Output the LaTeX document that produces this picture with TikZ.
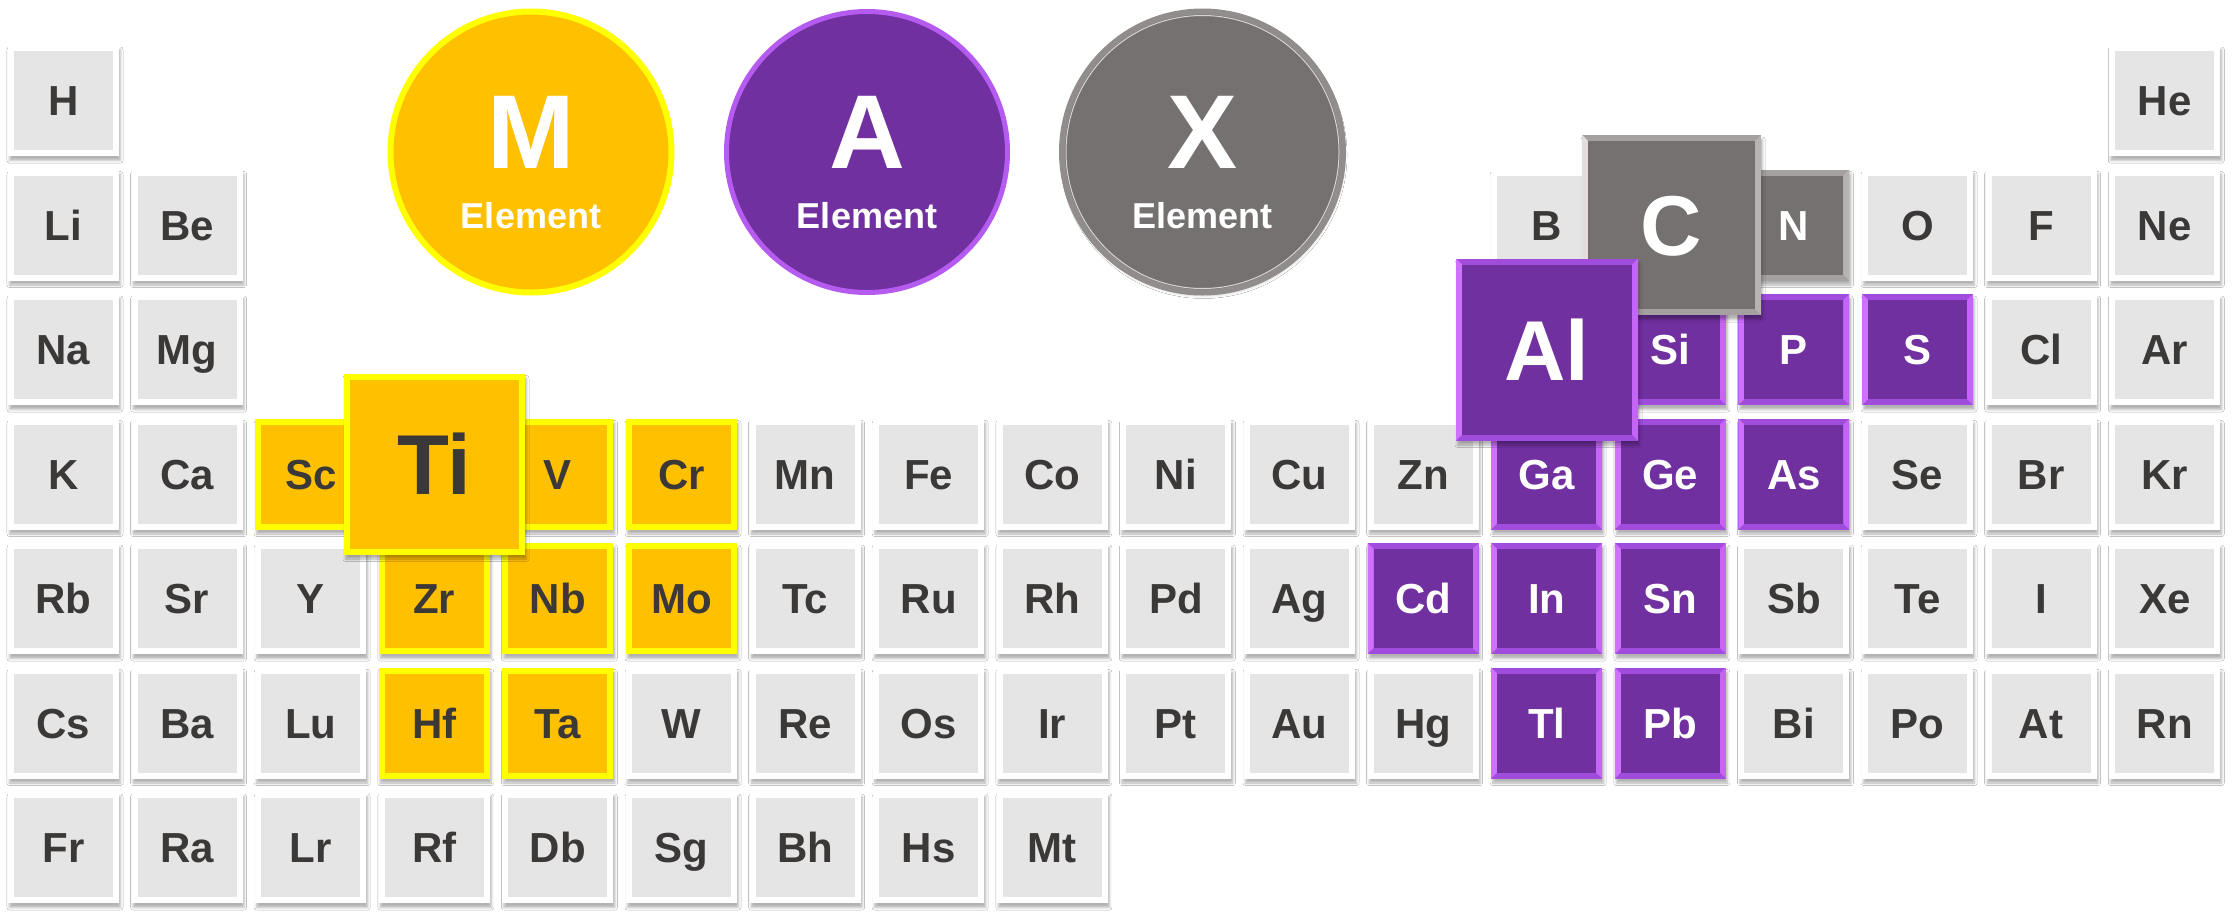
\documentclass[tikz,border=0pt]{standalone}
\usepackage{fontspec}
\setmainfont{Liberation Sans}
\usetikzlibrary{calc,shadows.blur}
\definecolor{txtdark}{HTML}{3B3838}
\definecolor{cellgray}{HTML}{E5E5E5}
\definecolor{myellow}{HTML}{FFC000}
\definecolor{ybord}{HTML}{FFFF00}
\definecolor{mpurple}{HTML}{7030A0}
\definecolor{ptb}{HTML}{A04CDC}
\definecolor{pleft}{HTML}{D070FF}
\definecolor{pright}{HTML}{C466F5}
\definecolor{pcirc}{HTML}{B65BF0}
\definecolor{mgray}{HTML}{767171}
\definecolor{gtb}{HTML}{A5A1A1}
\definecolor{gleft}{HTML}{E6DEDE}
\definecolor{gright}{HTML}{B8B3B3}
\definecolor{xring}{HTML}{918D8D}
\begin{document}
\begin{tikzpicture}[x=1pt,y=-1pt,
  base/.style={rectangle, inner sep=0pt, minimum width=111pt, minimum height=111pt,
    text height=30pt, text depth=0pt,
    font=\fontsize{42}{42}\selectfont\bfseries,
    blur shadow={shadow xshift=1.5pt, shadow yshift=-4.5pt, shadow blur radius=2.5pt, shadow opacity=30}},
  bigcell/.style={minimum width=181pt, minimum height=181pt, text height=61pt,
    font=\fontsize{85}{85}\selectfont\bfseries},
  framed/.style 2 args={base, fill=#1, path picture={
    \fill[#2] ($(path picture bounding box.south west)+(6pt,6pt)$) rectangle ($(path picture bounding box.north east)+(-6pt,-6pt)$);}},
  bev/.style n args={4}{base, fill=#1, path picture={
    \path (path picture bounding box.north west) coordinate (q1)
          (path picture bounding box.south east) coordinate (q2)
          (path picture bounding box.north east) coordinate (q3)
          (path picture bounding box.south west) coordinate (q4);
    \fill[#2] (q1) -- ($(q1)+(6pt,-6pt)$) -- ($(q4)+(6pt,6pt)$) -- (q4) -- cycle;
    \fill[#3] (q3) -- ($(q3)+(-6pt,-6pt)$) -- ($(q2)+(-6pt,6pt)$) -- (q2) -- cycle;
    \fill[#4] ($(q1)+(6pt,-6pt)$) rectangle ($(q2)+(-6pt,6pt)$);}},
  gcell/.style={framed={white}{cellgray}, text=txtdark},
  ycell/.style={framed={ybord}{myellow}, text=txtdark},
  pcell/.style={bev={ptb}{pleft}{pright}{mpurple}, text=white},
  xcell/.style={bev={gtb}{gleft}{gright}{mgray}, text=white},
  bigletter/.style={anchor=base, text=white, font=\fontsize{105}{105}\selectfont\bfseries},
  elemtext/.style={anchor=base, text=white, font=\fontsize{36}{36}\selectfont\bfseries},
  bigcirc/.style={circle, inner sep=0pt, minimum size=281pt}
]
\fill[white] (0,0) rectangle (2235,919);
\useasboundingbox (0,0) rectangle (2235,919);

% circles
\node[bigcirc, fill=myellow, draw=ybord, line width=6pt] (cM) at (531,152) {};
\node[bigletter] (tM) at (531,168) {M};
\node[elemtext] (eM) at (531,228) {Element};
\node[bigcirc, fill=mpurple, draw=pcirc, line width=5pt] (cA) at (867,152) {};
\node[bigletter] (tA) at (867,168) {A};
\node[elemtext] (eA) at (867,228) {Element};
\node[bigcirc, fill=mgray, draw=xring, line width=6pt,
  blur shadow={shadow xshift=1pt, shadow yshift=-3pt, shadow blur radius=3pt, shadow opacity=20}] (cX) at (1202.5,152) {};
\draw[white, opacity=0.7, line width=1pt] (cX.center) circle (136.5pt);
\node[bigletter] (tX) at (1202.5,168) {X};
\node[elemtext] (eX) at (1202.5,228) {Element};

% gray cells
\foreach \sym/\cc/\rr in {H/1/1, He/18/1,
  Li/1/2, Be/2/2, B/13/2, O/16/2, F/17/2, Ne/18/2,
  Na/1/3, Mg/2/3, Cl/17/3, Ar/18/3,
  K/1/4, Ca/2/4, Mn/7/4, Fe/8/4, Co/9/4, Ni/10/4, Cu/11/4, Zn/12/4, Se/16/4, Br/17/4, Kr/18/4,
  Rb/1/5, Sr/2/5, Y/3/5, Tc/7/5, Ru/8/5, Rh/9/5, Pd/10/5, Ag/11/5, Sb/15/5, Te/16/5, I/17/5, Xe/18/5,
  Cs/1/6, Ba/2/6, Lu/3/6, W/6/6, Re/7/6, Os/8/6, Ir/9/6, Pt/10/6, Au/11/6, Hg/12/6, Bi/15/6, Po/16/6, At/17/6, Rn/18/6,
  Fr/1/7, Ra/2/7, Lr/3/7, Rf/4/7, Db/5/7, Sg/6/7, Bh/7/7, Hs/8/7, Mt/9/7}
  \node[gcell] (e\sym) at ({63.5+(\cc-1)*123.6},{100.5+(\rr-1)*124.5}) {\sym};

% yellow (M) cells
\foreach \sym/\cc/\rr in {Sc/3/4, V/5/4, Cr/6/4, Zr/4/5, Nb/5/5, Mo/6/5, Hf/4/6, Ta/5/6}
  \node[ycell] (e\sym) at ({63.5+(\cc-1)*123.6},{100.5+(\rr-1)*124.5}) {\sym};

% purple (A) cells
\foreach \sym/\cc/\rr in {Si/14/3, P/15/3, S/16/3, Ga/13/4, Ge/14/4, As/15/4, Cd/12/5, In/13/5, Sn/14/5, Tl/13/6, Pb/14/6}
  \node[pcell] (e\sym) at ({63.5+(\cc-1)*123.6},{100.5+(\rr-1)*124.5}) {\sym};

% dark gray (X) cells
\node[xcell] (eN) at ({63.5+14*123.6},{100.5+124.5}) {N};

% highlighted big cells
\node[ycell, bigcell] (eTi) at (434.5,464) {Ti};
\node[xcell, bigcell, minimum width=179pt, minimum height=180pt] (eC) at (1671.5,225) {C};
\node[pcell, bigcell, minimum width=182pt, minimum height=182pt] (eAl) at (1547,349.5) {Al};
\end{tikzpicture}
\end{document}
